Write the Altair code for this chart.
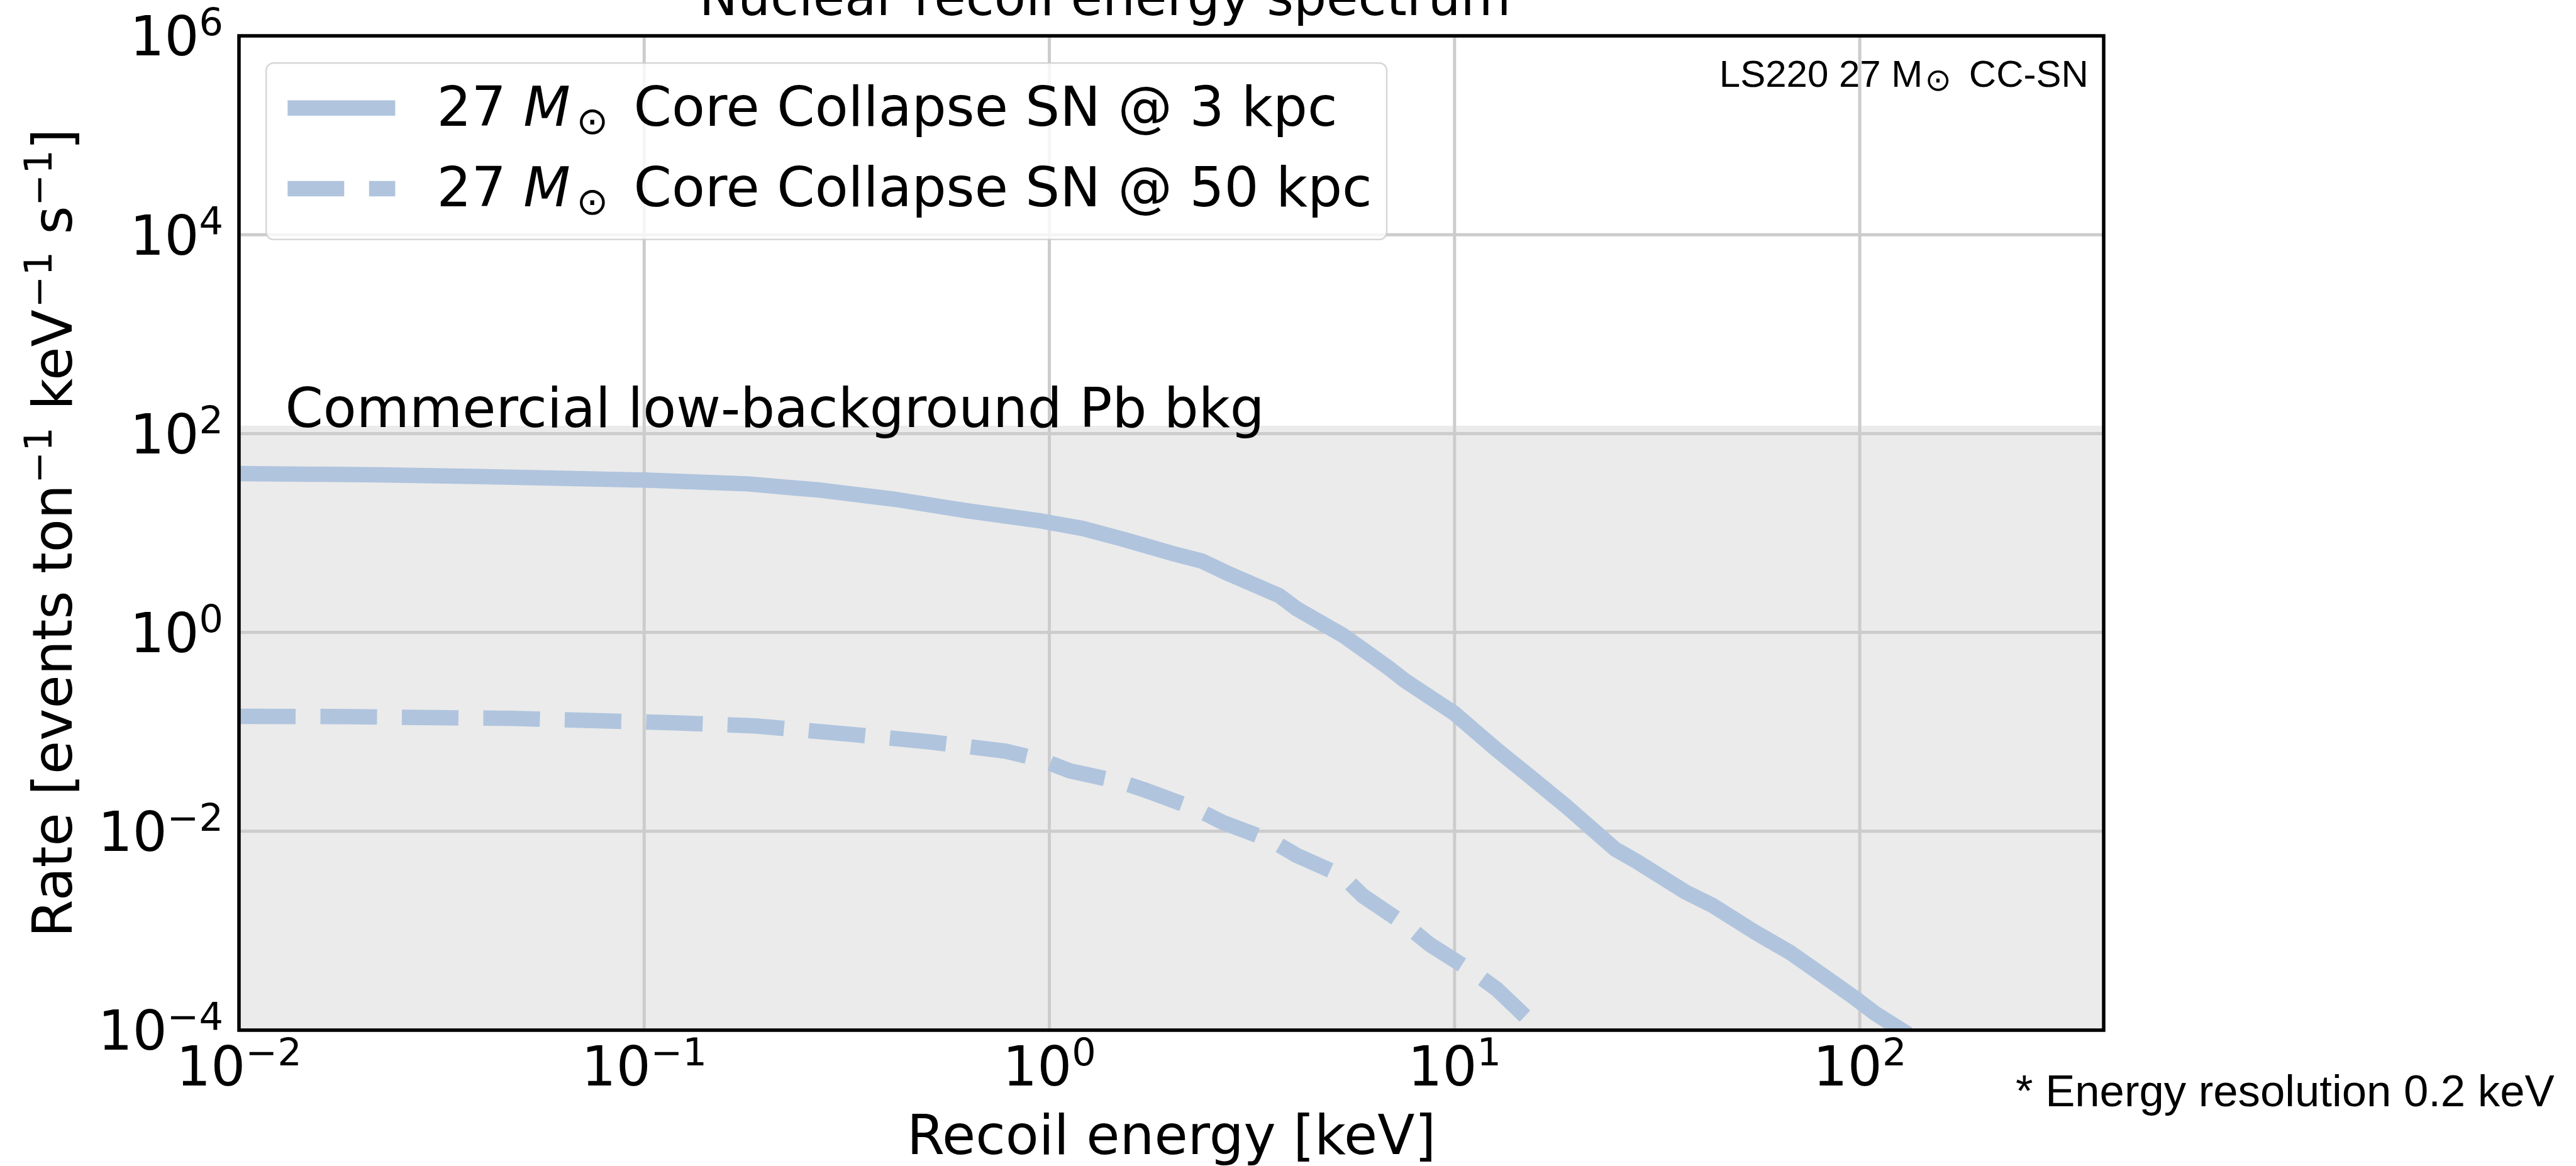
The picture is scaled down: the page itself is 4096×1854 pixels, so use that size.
import altair as alt
import pandas as pd

# ---------------- data ----------------
SOLID_E = [0.0100, 0.0221, 0.0512, 0.100, 0.180, 0.274, 0.417, 0.634, 0.955, 1.21,
           1.53, 2.00, 2.38, 2.77, 3.69, 4.07, 5.31, 6.84, 7.55, 9.98,
           12.7, 15.5, 18.9, 24.9, 28.1, 37.1, 43.5, 55.3, 67.5, 80.7,
           96.6, 109, 127]
SOLID_R = [39.6, 38.5, 36.2, 34.1, 31.2, 26.9, 21.8, 16.6, 13.2, 11.1,
           8.6, 6.27, 5.22, 3.89, 2.35, 1.74, 0.933, 0.447, 0.327, 0.154,
           0.0662, 0.0344, 0.0177, 0.00662, 0.0050, 0.00246, 0.00178, 0.00096, 0.00060, 0.00036,
           0.000215, 0.000148, 0.0001]
DASHED_E = [0.0100, 0.0188, 0.0472, 0.118, 0.188, 0.324, 0.513, 0.780, 0.953, 1.12,
            1.50, 1.73, 2.29, 2.69, 3.55, 4.07, 5.28, 5.94, 7.55, 8.69,
            11.2, 12.7, 15.8, 16.1]
DASHED_R = [0.1435, 0.1422, 0.1365, 0.1236, 0.1148, 0.0944, 0.0789, 0.0640, 0.0525, 0.0407,
            0.0313, 0.0258, 0.0169, 0.0122, 0.00798, 0.00574, 0.00358, 0.00224, 0.00116, 0.000726,
            0.000377, 0.000259, 0.000111, 0.0001]
SERIES_LABELS = ["Core Collapse SN @ 3 kpc", "Core Collapse SN @ 50 kpc"]
BKG_E = [0.01, 400]
BKG_R = [1e-4, 120]
BKG_LABEL = "Commercial low-background Pb bkg"
BKG_LABEL_E = [0.013]
BKG_LABEL_R = [116]
X_TICK_EXP = [-2, -1, 0, 1, 2]
Y_TICK_EXP = [-4, -2, 0, 2, 4, 6]
X_DOMAIN = [0.01, 400]
Y_DOMAIN = [1e-4, 1e6]

TITLE = "Nuclear recoil energy spectrum"
X_TITLE = "Recoil energy [keV]"
Y_TITLE_PARTS = ["Rate [events ton", "\u22121", " keV", "\u22121", " s", "\u22121", "]"]
Y_TITLE_SUP = [False, True, False, True, False, True, False]
MODEL_NOTE = ["LS220 27 M", "\u2299", "CC-SN"]
RES_NOTE = "* Energy resolution 0.2 keV"

# ---------------- styling ----------------
W, H = 2965, 1581
FONT = "DejaVu Sans"
NOTE_FONT = "Liberation Sans"
F = 86.5
S = 0.7 * F
SUP = 32.2
LINE_COLOR = "#b0c4de"
LW = 24.5
DASH = [90, 39.5]
GRID = "#cccccc"

ADV = {" ": 651, "R": 1423, "a": 1255, "t": 803, "e": 1260, "[": 799, "v": 1212,
       "n": 1298, "s": 1067, "o": 1253, "k": 1186, "V": 1401, "]": 799,
       "\u2212": 1716, "\u2299": 1716, "M": 1767, "-": 739}


def tw(s, size):
    return sum(ADV.get(c, 1303 if c.isdigit() else 1200) for c in s) / 2048 * size


xs = alt.Scale(type="log", domain=X_DOMAIN, nice=False)
ys = alt.Scale(type="log", domain=Y_DOMAIN, nice=False)
ONE = pd.DataFrame({"k": [0]})


def exp_str(e):
    return ("\u2212" + str(abs(e))) if e < 0 else str(e)


layers = []

# background band
bkg_df = pd.DataFrame({"x1": [BKG_E[0]], "x2": [BKG_E[1]], "y1": [BKG_R[0]], "y2": [BKG_R[1]]})
layers.append(alt.Chart(bkg_df).mark_rect(color="#ebebeb").encode(
    x=alt.X("x1:Q", scale=xs, axis=None), x2="x2:Q",
    y=alt.Y("y1:Q", scale=ys, axis=None), y2="y2:Q"))

# grid
xg = pd.DataFrame({"v": [10.0 ** e for e in X_TICK_EXP]})
yg = pd.DataFrame({"v": [10.0 ** e for e in Y_TICK_EXP]})
layers.append(alt.Chart(xg).mark_rule(color=GRID, strokeWidth=5).encode(
    x=alt.X("v:Q", scale=xs, axis=None)))
layers.append(alt.Chart(yg).mark_rule(color=GRID, strokeWidth=5).encode(
    y=alt.Y("v:Q", scale=ys, axis=None)))

# curves
solid_df = pd.DataFrame({"E": SOLID_E, "R": SOLID_R})
dashed_df = pd.DataFrame({"E": DASHED_E, "R": DASHED_R})
layers.append(alt.Chart(solid_df).mark_line(
    color=LINE_COLOR, strokeWidth=LW, clip=True, strokeJoin="round", strokeCap="square").encode(
    x=alt.X("E:Q", scale=xs, axis=None), y=alt.Y("R:Q", scale=ys, axis=None)))
layers.append(alt.Chart(dashed_df).mark_line(
    color=LINE_COLOR, strokeWidth=LW, clip=True, strokeJoin="round", strokeCap="butt",
    strokeDash=DASH).encode(
    x=alt.X("E:Q", scale=xs, axis=None), y=alt.Y("R:Q", scale=ys, axis=None)))

# background label
lab_df = pd.DataFrame({"E": BKG_LABEL_E, "R": BKG_LABEL_R, "t": [BKG_LABEL]})
layers.append(alt.Chart(lab_df).mark_text(
    align="left", baseline="alphabetic", font=FONT, fontSize=F, color="black").encode(
    x=alt.X("E:Q", scale=xs, axis=None), y=alt.Y("R:Q", scale=ys, axis=None), text="t:N"))

# legend frame
layers.append(alt.Chart(ONE).mark_rect(
    fill="white", fillOpacity=0.8, stroke=GRID, strokeOpacity=0.8, strokeWidth=2.5,
    cornerRadius=12).encode(
    x=alt.value(43.2), x2=alt.value(1825), y=alt.value(43.2), y2=alt.value(323.8)))

# legend samples and labels
row_y = [114.7, 242.9]
row_base = [143.2, 271.1]
for i, lab in enumerate(SERIES_LABELS):
    kw = dict(color=LINE_COLOR, strokeWidth=LW, strokeCap="butt")
    if i == 1:
        kw["strokeDash"] = DASH
    layers.append(alt.Chart(ONE).mark_rule(**kw).encode(
        x=alt.value(77.3), x2=alt.value(248.4), y=alt.value(row_y[i])))
    pieces = [("27", F, "normal", 0, 0),
              ("M", F, "italic", tw("27 ", F), 0),
              ("\u2299", S, "normal", 222, 13),
              (lab, F, "normal", 313, 0)]
    for txt, size, style, dx, dy in pieces:
        layers.append(alt.Chart(ONE).mark_text(
            align="left", baseline="alphabetic", font=FONT, fontSize=size, fontStyle=style,
            dx=dx, dy=dy, color="black").encode(
            x=alt.value(314.6), y=alt.value(row_base[i]), text=alt.value(txt)))

# model note (top right)
for txt, size, font, dx, dy in [(MODEL_NOTE[0], 60, NOTE_FONT, 0, 0),
                                (MODEL_NOTE[1], 50, FONT, 327, 6),
                                (MODEL_NOTE[2], 60, NOTE_FONT, 397, 0)]:
    layers.append(alt.Chart(ONE).mark_text(
        align="left", baseline="alphabetic", font=font, fontSize=size, dx=dx, dy=dy,
        color="black").encode(x=alt.value(2353.8), y=alt.value(81), text=alt.value(txt)))

# spines
layers.append(alt.Chart(ONE).mark_rect(
    fillOpacity=0, stroke="black", strokeWidth=5.5).encode(
    x=alt.value(0), x2=alt.value(W), y=alt.value(0), y2=alt.value(H)))

# tick labels
w10 = tw("10", F)
groups = {}
for e in X_TICK_EXP:
    groups.setdefault(len(exp_str(e)), []).append(e)
for _, exps in groups.items():
    df = pd.DataFrame({"v": [10.0 ** e for e in exps], "b": ["10"] * len(exps),
                       "x": [exp_str(e) for e in exps]})
    wexp = tw(df["x"].iloc[0], S)
    dxb = -(w10 + wexp) / 2
    layers.append(alt.Chart(df).mark_text(
        align="left", baseline="alphabetic", font=FONT, fontSize=F, dx=dxb, color="black").encode(
        x=alt.X("v:Q", scale=xs, axis=None), y=alt.value(H + 88), text="b:N"))
    layers.append(alt.Chart(df).mark_text(
        align="left", baseline="alphabetic", font=FONT, fontSize=S, dx=dxb + w10, color="black").encode(
        x=alt.X("v:Q", scale=xs, axis=None), y=alt.value(H + 88 - SUP), text="x:N"))

groups = {}
for e in Y_TICK_EXP:
    groups.setdefault(len(exp_str(e)), []).append(e)
for _, exps in groups.items():
    df = pd.DataFrame({"v": [10.0 ** e for e in exps], "b": ["10"] * len(exps),
                       "x": [exp_str(e) for e in exps]})
    wexp = tw(df["x"].iloc[0], S)
    layers.append(alt.Chart(df).mark_text(
        align="right", baseline="alphabetic", font=FONT, fontSize=S, dy=31.3 - SUP, color="black").encode(
        x=alt.value(-25), y=alt.Y("v:Q", scale=ys, axis=None), text="x:N"))
    layers.append(alt.Chart(df).mark_text(
        align="right", baseline="alphabetic", font=FONT, fontSize=F, dy=31.3, color="black").encode(
        x=alt.value(-25 - wexp), y=alt.Y("v:Q", scale=ys, axis=None), text="b:N"))

# y title (rotated, pieced for superscripts; leading spaces become offsets)
sizes = [S if s else F for s in Y_TITLE_SUP]
total = sum(tw(p, sz) for p, sz in zip(Y_TITLE_PARTS, sizes))
y0 = H / 2 + total / 2
acc = 0.0
for p, sup, sz in zip(Y_TITLE_PARTS, Y_TITLE_SUP, sizes):
    txt = p.lstrip(" ")
    lead = tw(p[: len(p) - len(txt)], sz)
    layers.append(alt.Chart(ONE).mark_text(
        angle=270, align="left", baseline="alphabetic", font=FONT, fontSize=sz,
        dx=acc + lead, dy=(-SUP if sup else 0), color="black").encode(
        x=alt.value(-266), y=alt.value(y0), text=alt.value(txt)))
    acc += tw(p, sz)

# x title
layers.append(alt.Chart(ONE).mark_text(
    align="center", baseline="alphabetic", font=FONT, fontSize=F, color="black").encode(
    x=alt.value(W / 2), y=alt.value(1778.4), text=alt.value(X_TITLE)))

# title (partly cut by the top edge, as in the reference)
layers.append(alt.Chart(ONE).mark_text(
    align="center", baseline="alphabetic", font=FONT, fontSize=82, color="black").encode(
    x=alt.value(1377), y=alt.value(-33), text=alt.value(TITLE)))

# resolution note
layers.append(alt.Chart(ONE).mark_text(
    align="left", baseline="alphabetic", font=NOTE_FONT, fontSize=70.7, color="black").encode(
    x=alt.value(2825), y=alt.value(1701.7), text=alt.value(RES_NOTE)))

chart = alt.layer(*layers).properties(
    width=W, height=H,
    autosize=alt.AutoSizeParams(type="none"),
    padding={"left": 380, "top": 57, "right": 751, "bottom": 216},
    background="white",
).configure_view(stroke="transparent")

chart.save("out.html", embed_options={"renderer": "svg", "actions": False})
